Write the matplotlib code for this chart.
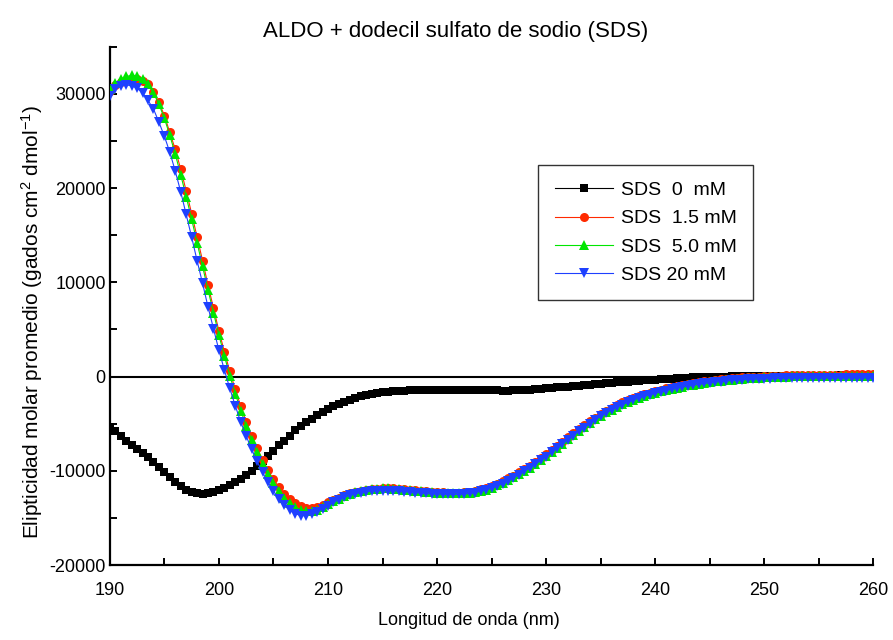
import numpy as np
import matplotlib.pyplot as plt
from matplotlib.ticker import MultipleLocator

plt.rcParams['font.family'] = ['Liberation Sans', 'DejaVu Sans']
plt.rcParams['mathtext.default'] = 'regular'
plt.rcParams['axes.unicode_minus'] = False

# wavelength grid (nm), 0.5 nm steps
wavelength = np.arange(190, 260.5, 0.5)

sds_0 = [
    -5300, -5800, -6300, -6800, -7300, -7700, -8100, -8550, -9100, -9600,
    -10100, -10650, -11150, -11650, -12000, -12250, -12400, -12450, -12400, -12250,
    -12050, -11800, -11500, -11200, -10850, -10450, -10000, -9500, -9000, -8450,
    -7900, -7300, -6800, -6250, -5700, -5250, -4850, -4450, -4100, -3750,
    -3450, -3150, -2900, -2650, -2450, -2250, -2100, -1950, -1850, -1750,
    -1680, -1620, -1570, -1530, -1490, -1460, -1430, -1410, -1390, -1380,
    -1370, -1370, -1370, -1380, -1390, -1400, -1410, -1420, -1430, -1440,
    -1450, -1470, -1480, -1480, -1470, -1450, -1420, -1380, -1340, -1300,
    -1250, -1200, -1150, -1100, -1050, -1000, -950, -900, -850, -800,
    -750, -700, -650, -610, -570, -530, -490, -450, -410, -370,
    -330, -290, -250, -210, -180, -150, -120, -90, -70, -50,
    -30, -10, 0, 10, 20, 30, 40, 50, 60, 70,
    80, 85, 90, 95, 100, 100, 105, 105, 110, 110,
    110, 115, 115, 115, 120, 120, 120, 120, 120, 120,
    120,
]

sds_1_5 = [
    30300, 30900, 31300, 31500, 31600, 31600, 31400, 31000, 30200, 29100,
    27700, 25900, 24100, 22000, 19700, 17300, 14800, 12300, 9700, 7300,
    4850, 2650, 550, -1350, -3150, -4800, -6250, -7600, -8850, -9950,
    -10900, -11750, -12450, -13000, -13450, -13750, -13900, -13900, -13800, -13600,
    -13350, -13100, -12850, -12600, -12400, -12250, -12100, -12000, -11950, -11900,
    -11850, -11850, -11850, -11900, -11950, -12000, -12050, -12100, -12150, -12200,
    -12250, -12250, -12300, -12300, -12300, -12250, -12200, -12100, -11950, -11800,
    -11600, -11350, -11100, -10800, -10500, -10150, -9800, -9450, -9050, -8650,
    -8250, -7800, -7350, -6900, -6450, -6000, -5550, -5150, -4750, -4350,
    -3950, -3600, -3300, -3000, -2720, -2470, -2230, -2020, -1850, -1700,
    -1550, -1400, -1250, -1120, -1000, -880, -770, -670, -580, -500,
    -420, -350, -290, -230, -180, -130, -90, -50, -20, 10,
    40, 60, 80, 100, 120, 140, 150, 160, 170, 180,
    190, 200, 210, 215, 220, 225, 230, 235, 240, 245,
    250,
]

sds_5_0 = [
    30500, 31100, 31600, 31850, 31950, 31900, 31600, 31000, 30100, 28900,
    27400, 25600, 23600, 21400, 19100, 16700, 14200, 11700, 9200, 6800,
    4400, 2200, 100, -1800, -3600, -5200, -6700, -8000, -9250, -10350,
    -11300, -12150, -12850, -13400, -13850, -14150, -14300, -14250, -14100, -13850,
    -13550, -13250, -12950, -12700, -12450, -12250, -12100, -12000, -11950, -11900,
    -11850, -11850, -11900, -11950, -12000, -12050, -12100, -12150, -12200, -12250,
    -12300, -12350, -12400, -12400, -12400, -12350, -12300, -12250, -12150, -12000,
    -11800, -11550, -11300, -11000, -10700, -10350, -10000, -9650, -9250, -8850,
    -8450, -8000, -7550, -7100, -6650, -6200, -5750, -5350, -4950, -4550,
    -4150, -3800, -3500, -3200, -2920, -2670, -2430, -2220, -2030, -1870,
    -1720, -1570, -1420, -1290, -1170, -1050, -940, -840, -750, -660,
    -580, -500, -430, -370, -310, -260, -210, -170, -130, -100,
    -70, -40, -20, 0, 10, 20, 30, 40, 45, 50,
    55, 60, 65, 70, 70, 75, 75, 80, 80, 80,
    80,
]

sds_20 = [
    29800, 30500, 30850, 30950, 30850, 30600, 30100, 29300, 28400, 27000,
    25500, 23800, 21800, 19600, 17200, 14800, 12300, 9900, 7400, 5100,
    2800, 700, -1250, -3100, -4800, -6300, -7700, -9000, -10150, -11200,
    -12150, -12950, -13650, -14200, -14550, -14750, -14750, -14600, -14350, -14050,
    -13700, -13350, -13050, -12800, -12600, -12450, -12300, -12200, -12150, -12100,
    -12100, -12100, -12100, -12150, -12200, -12250, -12300, -12350, -12400, -12450,
    -12450, -12500, -12500, -12500, -12500, -12450, -12400, -12300, -12150, -12000,
    -11850, -11600, -11350, -11050, -10750, -10400, -10050, -9700, -9300, -8900,
    -8500, -8050, -7600, -7150, -6700, -6250, -5800, -5400, -5000, -4600,
    -4200, -3850, -3550, -3250, -2970, -2720, -2480, -2270, -2080, -1920,
    -1770, -1620, -1480, -1350, -1230, -1110, -1000, -900, -810, -730,
    -650, -580, -520, -460, -410, -370, -330, -300, -270, -250,
    -230, -210, -200, -190, -180, -175, -170, -170, -165, -165,
    -160, -160, -160, -155, -155, -155, -150, -150, -150, -150,
    -150,
]

labels = ["SDS  0  mM", "SDS  1.5 mM", "SDS  5.0 mM", "SDS 20 mM"]

fig, ax = plt.subplots(figsize=(8.93, 6.4), dpi=100)
fig.subplots_adjust(left=0.123, right=0.978, bottom=0.117, top=0.927)

ax.axhline(0, color='black', lw=1.5, zorder=1)

ax.plot(wavelength, sds_0, '-s', color='black', lw=0.8, ms=5.5, mew=0, label=labels[0], zorder=2)
ax.plot(wavelength, sds_1_5, '-o', color='#ff2a00', lw=0.8, ms=6.5, mew=0, label=labels[1], zorder=3)
ax.plot(wavelength, sds_5_0, '-^', color='#00e600', lw=0.8, ms=7.5, mew=0, label=labels[2], zorder=4)
ax.plot(wavelength, sds_20, '-v', color='#1e40ff', lw=0.8, ms=7.5, mew=0, label=labels[3], zorder=5)

ax.set_xlim(190, 260)
ax.set_ylim(-20000, 35000)
ax.set_xticks([190, 200, 210, 220, 230, 240, 250, 260])
ax.set_yticks([-20000, -10000, 0, 10000, 20000, 30000])
ax.xaxis.set_minor_locator(MultipleLocator(5))
ax.yaxis.set_minor_locator(MultipleLocator(5000))

ax.spines['top'].set_visible(False)
ax.spines['right'].set_visible(False)
ax.spines['left'].set_linewidth(1.6)
ax.spines['bottom'].set_linewidth(1.6)
ax.tick_params(which='both', direction='in', length=5, width=1.4, labelsize=13)
ax.tick_params(axis='x', which='both', pad=12)
ax.tick_params(axis='y', which='both', pad=3)

fig.text(0.51, 0.950, "ALDO + dodecil sulfato de sodio (SDS)", fontsize=16,
         ha='center', va='center')
fig.text(0.525, 0.031, "Longitud de onda (nm)", fontsize=13, ha='center', va='center')
fig.text(0.036, 0.497, "Elipticidad molar promedio (gados cm$^{2}$ dmol$^{-1}$)",
         fontsize=15, rotation=90, ha='center', va='center')

leg = ax.legend(loc='upper left', bbox_to_anchor=(0.561, 0.772), borderaxespad=0,
                fontsize=14, frameon=True, fancybox=False, edgecolor='black',
                handlelength=3.0, labelspacing=0.55, borderpad=0.85, handletextpad=0.4)
leg.get_frame().set_linewidth(1.0)

plt.savefig("out.png", dpi=100)
